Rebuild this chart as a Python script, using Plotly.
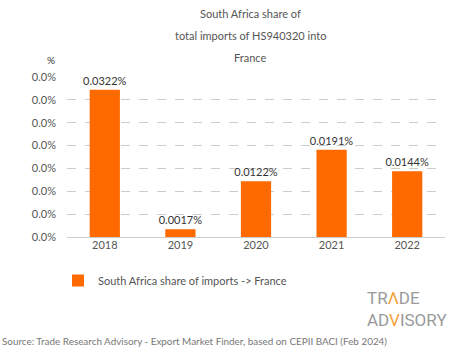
import plotly.graph_objects as go

years = ["2018", "2019", "2020", "2021", "2022"]
shares = [0.000322, 0.000017, 0.000122, 0.000191, 0.000144]
labels = ["0.0322%", "0.0017%", "0.0122%", "0.0191%", "0.0144%"]
tick_vals = [0, 0.00005, 0.0001, 0.00015, 0.0002, 0.00025, 0.0003, 0.00035]
tick_text = ["0.0%"] * len(tick_vals)
title_lines = ["South Africa share of", "total imports of HS940320 into", "France"]

FONT = "Lato"
GREY = "#555555"
ORANGE = "#FF6A00"
GOLD = "#F2A23A"
W, H = 465, 359
L, R, T, B = 67, 20, 77, 122
PW, PH = W - L - R, H - T - B


def px(x):
    return (x - L) / PW


def py(y):
    return (H - B - y) / PH


fig = go.Figure()
fig.add_trace(go.Bar(
    x=years, y=shares, name="South Africa share of imports -> France",
    marker=dict(color=ORANGE, line=dict(width=0)),
    text=labels, textposition="outside", cliponaxis=False, constraintext="none",
    textfont=dict(size=11, color="#333333", family=FONT),
))

fig.update_layout(
    width=W, height=H,
    paper_bgcolor="white", plot_bgcolor="white",
    margin=dict(l=L, r=R, t=T, b=B, autoexpand=False),
    bargap=0.6,
    font=dict(family=FONT, color=GREY, size=11),
    showlegend=True,
    legend=dict(orientation="h", x=px(58), xanchor="left", y=py(266), yanchor="top",
                font=dict(size=11, color=GREY, family=FONT), itemwidth=30),
    xaxis=dict(showline=False, showgrid=False, ticks="", tickfont=dict(size=11, color=GREY)),
    yaxis=dict(range=[0, 0.00035], tickvals=tick_vals, ticktext=tick_text,
               showgrid=True, gridcolor="#cccccc", griddash="dash", gridwidth=1,
               zeroline=True, zerolinecolor="#cccccc", zerolinewidth=1,
               tickfont=dict(size=11, color=GREY), ticklabelstandoff=10),
)

for i, line in enumerate(title_lines):
    fig.add_annotation(text=line, xref="paper", yref="paper", x=px(250),
                       y=py(13 + 22 * i), yanchor="middle",
                       showarrow=False, font=dict(size=11, color=GREY, family=FONT))

fig.add_annotation(text="%", xref="paper", yref="paper", x=px(45), y=py(60),
                   yanchor="middle", showarrow=False,
                   font=dict(size=10, color="#333333", family=FONT))
fig.add_annotation(text=f"TR<span style='color:{GOLD}'>Λ</span>DE", xref="paper", yref="paper",
                   x=px(365), xanchor="left", y=py(298), yanchor="middle", showarrow=False,
                   font=dict(size=17, color="#9a9a9a", family="Roboto"))
fig.add_annotation(text=f"AD<span style='color:{GOLD}'>V</span>ISORY", xref="paper", yref="paper",
                   x=px(365), xanchor="left", y=py(320), yanchor="middle", showarrow=False,
                   font=dict(size=17, color="#9a9a9a", family="Roboto"))
fig.add_annotation(text="Source: Trade Research Advisory - Export Market Finder, based on CEPII BACI (Feb 2024)",
                   xref="paper", yref="paper", x=px(0), xanchor="left",
                   y=py(341), yanchor="middle",
                   showarrow=False, font=dict(size=9.9, color="#777777", family=FONT))

fig.write_html("out.html", config={"displayModeBar": False},
               post_script="document.body.style.margin='0';")
